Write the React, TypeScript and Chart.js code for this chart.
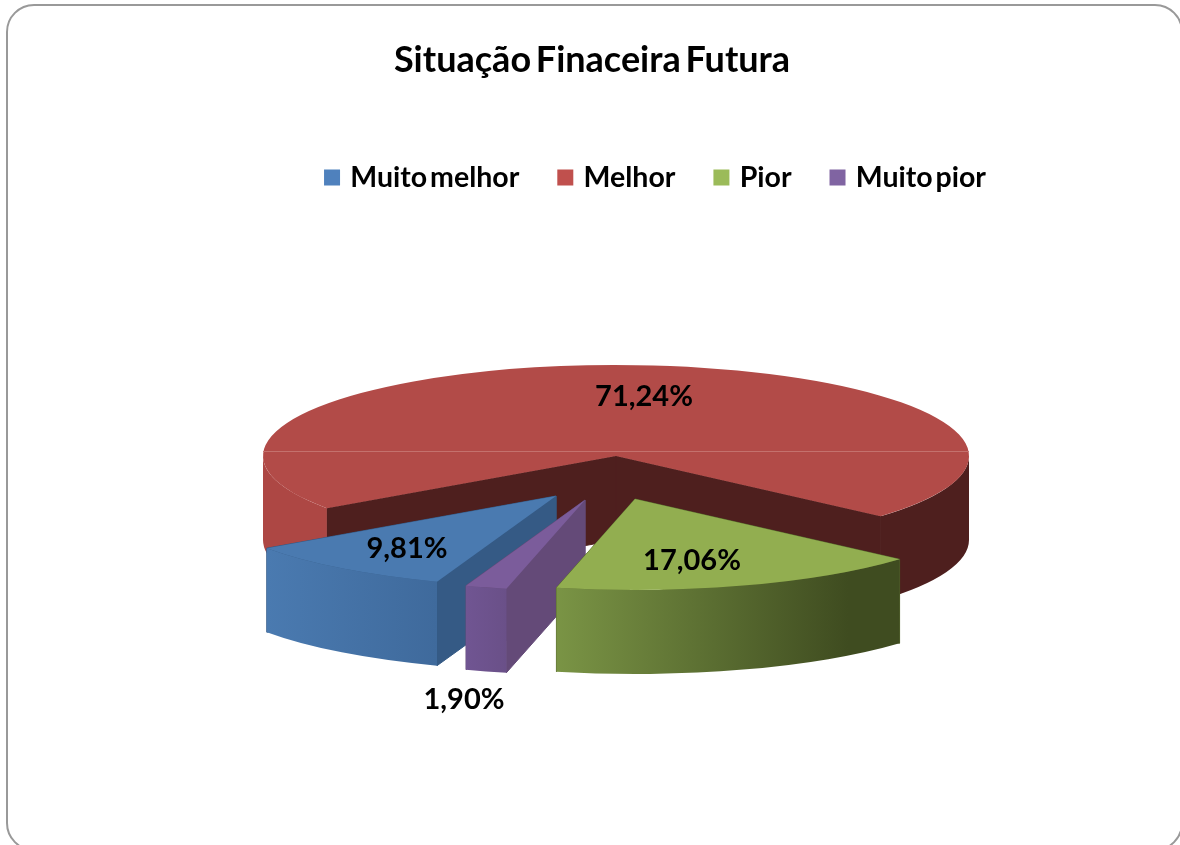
import React, { useEffect, useRef } from "react";
import { Chart, registerables } from "chart.js";

Chart.register(...registerables);

// ---- data ----
const categories = ["Muito melhor", "Melhor", "Pior", "Muito pior"];
const shares = [9.81, 71.24, 17.06, 1.9];
const shareLabels = ["9,81%", "71,24%", "17,06%", "1,90%"];
const chartTitle = "Situação Finaceira Futura";

// ---- styles ----
const legendColors = ["#4f81bd", "#c0504d", "#9bbb59", "#8064a2"];
const topColors = ["#4a7ab0", "#b24b48", "#92ae50", "#7b5c9b"];
const cutColors = ["#355a85", "#4e1f1e", "#55652c", "#644a78"];
const wallStops = [
  [[0, "#4a7ab0"], [1, "#3f6a9c"]],
  [[0, "#ad4744"], [0.12, "#ad4744"], [0.86, "#4e1f1e"], [1, "#4e1f1e"]],
  [[0, "#7a9445"], [0.85, "#3f4c20"], [1, "#3f4c20"]],
  [[0, "#705592"], [1, "#6a5088"]],
];
const drawOrder = [1, 0, 3, 2];
const explode = [[-60, 40], [0, 0], [19, 43], [-31, 44]];
const labelAnchors = [[407, 549], [644, 397], [692, 561], [464, 700]];

const pie3d = {
  cx: 616, cy: 456, rx: 353, ry: 91, depth: 84,
};
const FONT = "Lato, 'Open Sans', sans-serif";

const pie3dPlugin = {
  id: "pie3d",
  beforeUpdate(chart: any) {
    chart.ctx.wordSpacing = "-4px";
  },
  afterLayout(chart: any) {
    chart.legend.left += 67;
    chart.legend.right += 67;
    chart.titleBlock.left += 2;
    chart.titleBlock.right += 2;
  },
  beforeDatasetsDraw(chart: any) {
    const ctx = chart.ctx;
    const arcs = chart.getDatasetMeta(0).data;
    const { cx, cy, rx, ry, depth } = pie3d;
    for (const i of drawOrder) {
      const el = arcs[i];
      const [sx, sy] = explode[i];
      const ox = cx + sx;
      const oy = cy + sy;
      const a0 = el.startAngle;
      const a1 = el.endAngle;
      const px = (a: number) => ox + rx * Math.cos(a);
      const py = (a: number) => oy + ry * Math.sin(a);

      // cut faces
      ctx.fillStyle = cutColors[i];
      ctx.strokeStyle = cutColors[i];
      ctx.lineWidth = 1;
      for (const a of [a1, a0]) {
        ctx.beginPath();
        ctx.moveTo(ox, oy);
        ctx.lineTo(px(a), py(a));
        ctx.lineTo(px(a), py(a) + depth);
        ctx.lineTo(ox, oy + depth);
        ctx.closePath();
        ctx.fill();
        ctx.stroke();
      }

      // outer wall (only the part that faces the viewer)
      const TAU = Math.PI * 2;
      const ranges: number[][] = [];
      for (let k = -1; k <= 2; k++) {
        const s = Math.max(a0, k * TAU);
        const e = Math.min(a1, k * TAU + Math.PI);
        if (e > s) ranges.push([s, e]);
      }
      let minX = Infinity;
      let maxX = -Infinity;
      for (const [s, e] of ranges) {
        for (let t = 0; t <= 40; t++) {
          const x = px(s + ((e - s) * t) / 40);
          minX = Math.min(minX, x);
          maxX = Math.max(maxX, x);
        }
      }
      const grad = ctx.createLinearGradient(minX, 0, maxX, 0);
      for (const [p, c] of wallStops[i] as any) grad.addColorStop(p, c);
      ctx.fillStyle = grad;
      for (const [s, e] of ranges) {
        ctx.beginPath();
        ctx.ellipse(ox, oy, rx, ry, 0, s, e, false);
        ctx.lineTo(px(e), py(e) + depth);
        ctx.ellipse(ox, oy + depth, rx, ry, 0, e, s, true);
        ctx.closePath();
        ctx.fill();
      }

      // top face, drawn by the library's own arc element
      ctx.save();
      ctx.translate(ox, oy);
      ctx.scale(rx / el.outerRadius, ry / el.outerRadius);
      ctx.translate(-el.x, -el.y);
      el.draw(ctx);
      ctx.restore();

      if (i === 1) {
        ctx.strokeStyle = "#c4716d";
        ctx.lineWidth = 1;
        ctx.beginPath();
        ctx.moveTo(cx - rx, 451.5);
        ctx.lineTo(cx + rx, 451.5);
        ctx.stroke();
      }
    }
    return false;
  },
  afterDraw(chart: any) {
    const ctx = chart.ctx;
    ctx.save();
    ctx.wordSpacing = "0px";
    ctx.font = `bold 29px ${FONT}`;
    ctx.fillStyle = "#000";
    ctx.textAlign = "center";
    ctx.textBaseline = "middle";
    shareLabels.forEach((t, i) => ctx.fillText(t, labelAnchors[i][0], labelAnchors[i][1]));
    ctx.restore();
  },
};

export default function App() {
  const ref = useRef<HTMLCanvasElement>(null);
  useEffect(() => {
    const chart = new Chart(ref.current as HTMLCanvasElement, {
      type: "pie",
      data: {
        labels: categories,
        datasets: [{ data: shares, backgroundColor: topColors, borderWidth: 0, hoverOffset: 0 }],
      },
      options: {
        animation: false,
        responsive: false,
        rotation: 199.7,
        layout: { padding: { top: 39, bottom: 20, left: 0, right: 0 } },
        plugins: {
          title: {
            display: true,
            text: chartTitle,
            color: "#000",
            font: { family: FONT, size: 36, weight: "bold" },
            padding: { top: 0, bottom: 39 },
          },
          legend: {
            display: true,
            position: "top",
            labels: {
              color: "#000",
              font: { family: FONT, size: 28.5, weight: "bold" },
              usePointStyle: true,
              pointStyle: "rect",
              boxWidth: 8,
              boxHeight: 16,
              padding: 42,
              generateLabels: () =>
                categories.map((text, i) => ({
                  text,
                  fillStyle: legendColors[i],
                  strokeStyle: legendColors[i],
                  lineWidth: 0,
                  pointStyle: "rect",
                  hidden: false,
                  index: i,
                })),
            },
          },
          tooltip: { enabled: false },
        },
      },
      plugins: [pie3dPlugin],
    } as any);
    return () => chart.destroy();
  }, []);
  return (
    <div>
      <div
        style={{
          position: "fixed",
          left: 6,
          top: 4,
          width: 1177,
          height: 847,
          boxSizing: "border-box",
          border: "2px solid #999",
          borderRadius: 28,
        }}
      />
      <canvas
        ref={ref}
        width={1180}
        height={845}
        style={{ position: "fixed", left: 0, top: 0, width: 1180, height: 845 }}
      />
    </div>
  );
}
